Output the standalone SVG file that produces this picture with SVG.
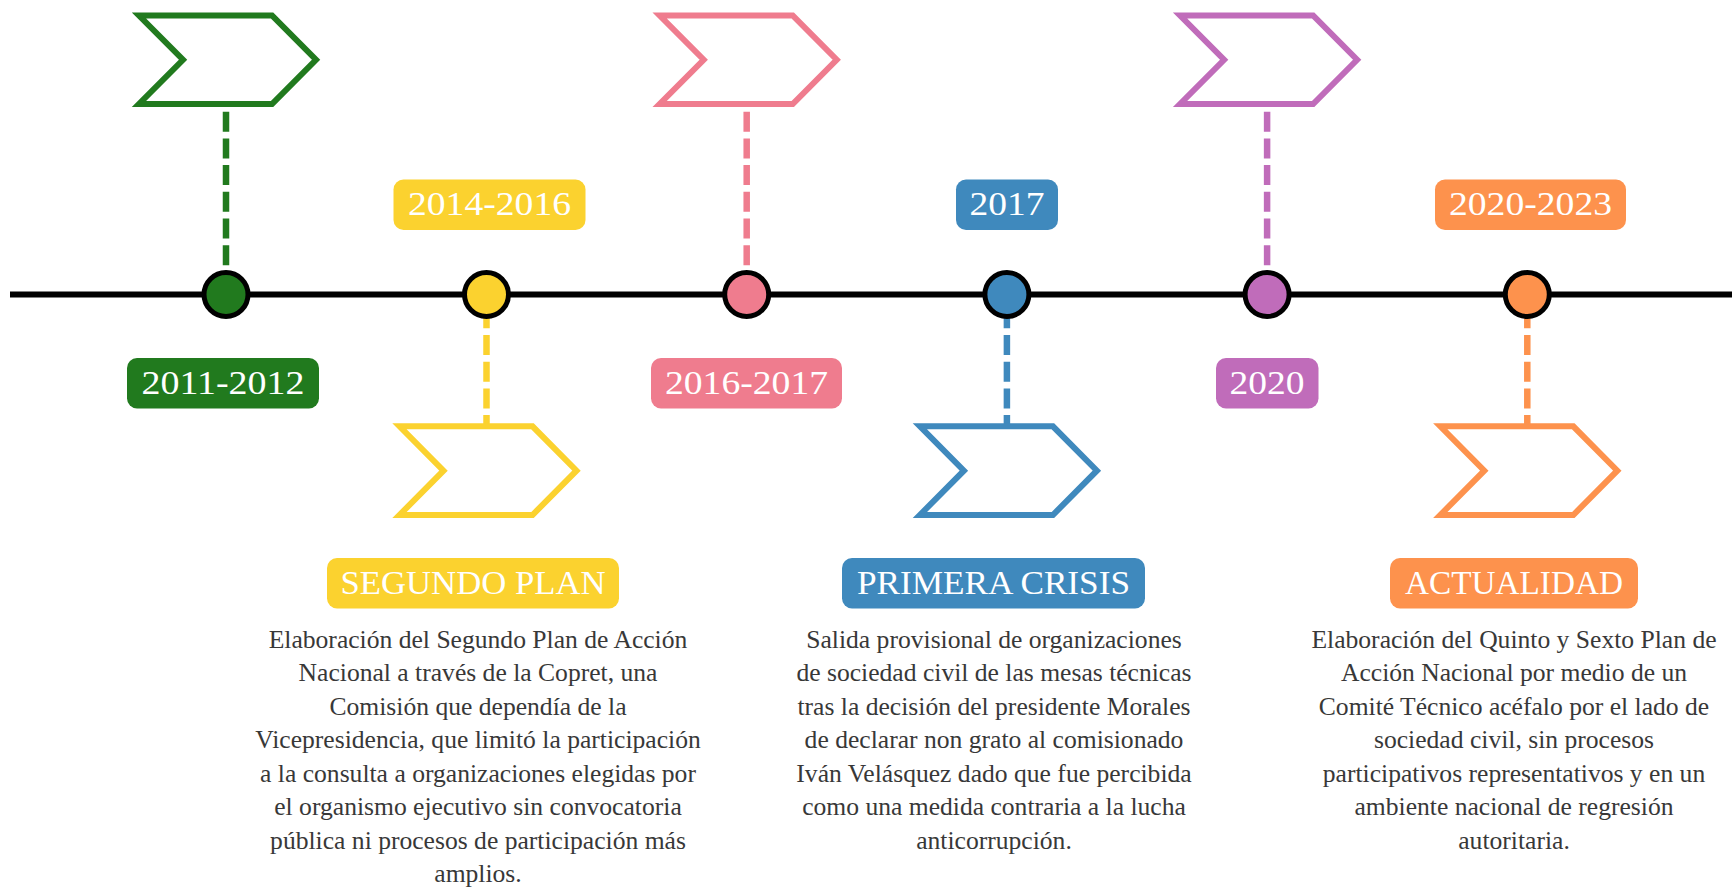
<svg xmlns="http://www.w3.org/2000/svg" width="1732" height="888" viewBox="0 0 1732 888">
<style>
.axis{stroke:#000;stroke-width:6;fill:none}
.dash{stroke-width:6.5;stroke-dasharray:20 6.7;fill:none}
.dot{stroke:#000;stroke-width:5}
.chev{fill:#fff;stroke-width:6;stroke-linejoin:miter}
.lbl{font-family:"Liberation Serif","Times New Roman",serif;font-size:34px;fill:#fff;text-anchor:middle}
.body{font-family:"Liberation Serif","Times New Roman",serif;font-size:25.6px;fill:#383838;text-anchor:middle}
.g{stroke:#217a1e}.gf{fill:#217a1e}
.y{stroke:#fbd22f}.yf{fill:#fbd22f}
.p{stroke:#ef7c8e}.pf{fill:#ef7c8e}
.b{stroke:#3f89bd}.bf{fill:#3f89bd}
.v{stroke:#c06cba}.vf{fill:#c06cba}
.o{stroke:#fd924d}.of{fill:#fd924d}
</style>
<rect width="1732" height="888" fill="#fff"/>
<line class="axis" x1="10" y1="294.5" x2="1732" y2="294.5"/>
<g id="connectors">
<line class="dash g" x1="226" y1="111.7" x2="226" y2="294"/>
<line class="dash y" x1="486.5" y1="281.6" x2="486.5" y2="426"/>
<line class="dash p" x1="746.7" y1="111.7" x2="746.7" y2="294"/>
<line class="dash b" x1="1006.9" y1="281.6" x2="1006.9" y2="426"/>
<line class="dash v" x1="1267.1" y1="111.7" x2="1267.1" y2="294"/>
<line class="dash o" x1="1527.3" y1="281.6" x2="1527.3" y2="426"/>
</g>
<g id="n2011">
<circle class="dot gf" cx="226" cy="294.5" r="22"/>
<polygon class="chev g" points="139,15.5 272,15.5 316,59.75 272,104 139,104 183,59.75"/>
<rect class="gf" x="127" y="358" width="192" height="50.5" rx="10"/>
<text class="lbl" x="223" y="393.5" textLength="163" lengthAdjust="spacingAndGlyphs">2011-2012</text>
</g>
<g id="n2014">
<circle class="dot yf" cx="486.5" cy="294.5" r="22"/>
<polygon class="chev y" points="399.5,426.3 532.5,426.3 576.5,470.65 532.5,515 399.5,515 443.5,470.65"/>
<rect class="yf" x="393.5" y="179.5" width="192" height="50.5" rx="10"/>
<text class="lbl" x="489.5" y="215" textLength="163" lengthAdjust="spacingAndGlyphs">2014-2016</text>
<rect class="yf" x="327" y="558" width="292" height="50.5" rx="10"/>
<text class="lbl" x="473" y="593.5" textLength="265" lengthAdjust="spacingAndGlyphs">SEGUNDO PLAN</text>
<text class="body" x="478" y="647.5">Elaboración del Segundo Plan de Acción</text>
<text class="body" x="478" y="681">Nacional a través de la Copret, una</text>
<text class="body" x="478" y="714.5">Comisión que dependía de la</text>
<text class="body" x="478" y="748">Vicepresidencia, que limitó la participación</text>
<text class="body" x="478" y="781.5">a la consulta a organizaciones elegidas por</text>
<text class="body" x="478" y="815">el organismo ejecutivo sin convocatoria</text>
<text class="body" x="478" y="848.5">pública ni procesos de participación más</text>
<text class="body" x="478" y="882">amplios.</text>
</g>
<g id="n2016">
<circle class="dot pf" cx="746.7" cy="294.5" r="22"/>
<polygon class="chev p" points="659.7,15.5 792.7,15.5 836.7,59.75 792.7,104 659.7,104 703.7,59.75"/>
<rect class="pf" x="651" y="358" width="191" height="50.5" rx="10"/>
<text class="lbl" x="746.5" y="393.5" textLength="163" lengthAdjust="spacingAndGlyphs">2016-2017</text>
</g>
<g id="n2017">
<circle class="dot bf" cx="1006.9" cy="294.5" r="22"/>
<polygon class="chev b" points="919.9,426.3 1052.9,426.3 1096.9,470.65 1052.9,515 919.9,515 963.9,470.65"/>
<rect class="bf" x="956" y="179.5" width="102" height="50.5" rx="10"/>
<text class="lbl" x="1007" y="215" textLength="75" lengthAdjust="spacingAndGlyphs">2017</text>
<rect class="bf" x="842" y="558" width="303" height="50.5" rx="10"/>
<text class="lbl" x="993.5" y="593.5" textLength="273" lengthAdjust="spacingAndGlyphs">PRIMERA CRISIS</text>
<text class="body" x="994" y="647.5">Salida provisional de organizaciones</text>
<text class="body" x="994" y="681">de sociedad civil de las mesas técnicas</text>
<text class="body" x="994" y="714.5">tras la decisión del presidente Morales</text>
<text class="body" x="994" y="748">de declarar non grato al comisionado</text>
<text class="body" x="994" y="781.5">Iván Velásquez dado que fue percibida</text>
<text class="body" x="994" y="815">como una medida contraria a la lucha</text>
<text class="body" x="994" y="848.5">anticorrupción.</text>
</g>
<g id="n2020">
<circle class="dot vf" cx="1267.1" cy="294.5" r="22"/>
<polygon class="chev v" points="1180.1,15.5 1313.1,15.5 1357.1,59.75 1313.1,104 1180.1,104 1224.1,59.75"/>
<rect class="vf" x="1216" y="358" width="102.5" height="50.5" rx="10"/>
<text class="lbl" x="1267" y="393.5" textLength="75" lengthAdjust="spacingAndGlyphs">2020</text>
</g>
<g id="n2020-2023">
<circle class="dot of" cx="1527.3" cy="294.5" r="22"/>
<polygon class="chev o" points="1440.3,426.3 1573.3,426.3 1617.3,470.65 1573.3,515 1440.3,515 1484.3,470.65"/>
<rect class="of" x="1435" y="179.5" width="191" height="50.5" rx="10"/>
<text class="lbl" x="1530.5" y="215" textLength="163" lengthAdjust="spacingAndGlyphs">2020-2023</text>
<rect class="of" x="1390" y="558" width="248" height="50.5" rx="10"/>
<text class="lbl" x="1514" y="593.5" textLength="218" lengthAdjust="spacingAndGlyphs">ACTUALIDAD</text>
<text class="body" x="1514" y="647.5">Elaboración del Quinto y Sexto Plan de</text>
<text class="body" x="1514" y="681">Acción Nacional por medio de un</text>
<text class="body" x="1514" y="714.5">Comité Técnico acéfalo por el lado de</text>
<text class="body" x="1514" y="748">sociedad civil, sin procesos</text>
<text class="body" x="1514" y="781.5">participativos representativos y en un</text>
<text class="body" x="1514" y="815">ambiente nacional de regresión</text>
<text class="body" x="1514" y="848.5">autoritaria.</text>
</g>
</svg>
